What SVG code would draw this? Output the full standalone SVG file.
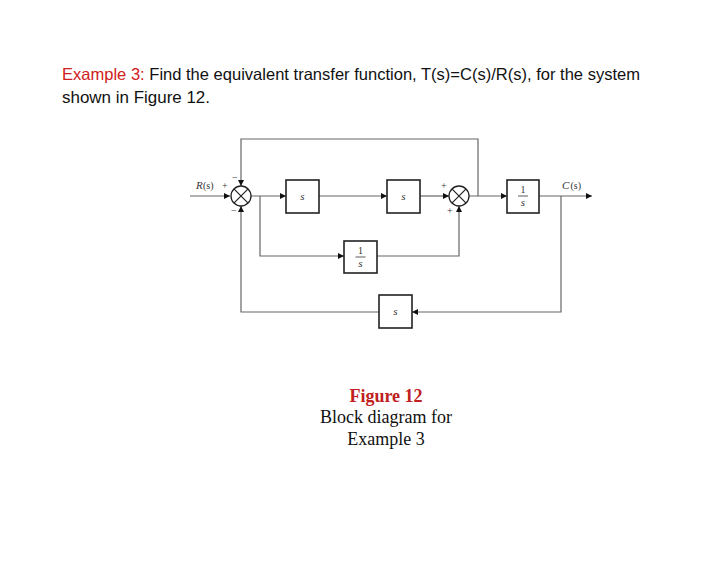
<svg xmlns="http://www.w3.org/2000/svg" width="728" height="563" viewBox="0 0 728 563">
<defs>
<marker id="ah" viewBox="0 0 10 10" refX="10" refY="5" markerWidth="8" markerHeight="6" orient="auto" markerUnits="userSpaceOnUse"><path d="M0,0 L10,5 L0,10 z" fill="#111"/></marker>
</defs>
<style>
.ln{fill:none;stroke:#666;stroke-width:1.2}
.bx{fill:#fff;stroke:#222;stroke-width:1.6}
.sm{fill:#fff;stroke:#222;stroke-width:1.3}
.lb{font-family:"Liberation Serif",serif;font-size:10px;fill:#333}
.it{font-family:"Liberation Serif",serif;font-style:italic;font-size:11px;fill:#333}
.hd{font-family:"Liberation Sans",Arial,sans-serif;font-size:16.5px;fill:#111}
.cap{font-family:"Liberation Serif",serif;font-size:18px;fill:#111;text-anchor:middle}
</style>
<rect width="728" height="563" fill="#fff"/>
<text class="hd" x="62" y="80" textLength="578" lengthAdjust="spacingAndGlyphs"><tspan fill="#d02020">Example 3:</tspan> Find the equivalent transfer function, T(s)=C(s)/R(s), for the system</text>
<text class="hd" x="62" y="103" textLength="148" lengthAdjust="spacingAndGlyphs">shown in Figure 12.</text>
<g id="connectors">
<line class="ln" x1="190" y1="196" x2="230" y2="196" marker-end="url(#ah)"/>
<polyline class="ln" points="478,196 478,139 241,139 241,186" marker-end="url(#ah)"/>
<line class="ln" x1="251" y1="196" x2="286" y2="196" marker-end="url(#ah)"/>
<line class="ln" x1="319" y1="196" x2="387" y2="196" marker-end="url(#ah)"/>
<line class="ln" x1="420" y1="196" x2="449" y2="196" marker-end="url(#ah)"/>
<line class="ln" x1="469" y1="196" x2="507" y2="196" marker-end="url(#ah)"/>
<line class="ln" x1="539" y1="196" x2="592" y2="196" marker-end="url(#ah)"/>
<polyline class="ln" points="260,196 260,256 344,256" marker-end="url(#ah)"/>
<polyline class="ln" points="377,256 459,256 459,206" marker-end="url(#ah)"/>
<polyline class="ln" points="561,196 561,312 412,312" marker-end="url(#ah)"/>
<polyline class="ln" points="379,312 241,312 241,206" marker-end="url(#ah)"/>
</g>
<g id="sum1">
<circle class="sm" cx="241" cy="196" r="10"/>
<path d="M233.9,188.9 L248.1,203.1 M248.1,188.9 L233.9,203.1" stroke="#222" stroke-width="1.2"/>
<text class="lb" x="222" y="189">+</text>
<text class="lb" x="232" y="181">−</text>
<text class="lb" x="231" y="214">−</text>
</g>
<g id="sum2">
<circle class="sm" cx="459" cy="196" r="10"/>
<path d="M451.9,188.9 L466.1,203.1 M466.1,188.9 L451.9,203.1" stroke="#222" stroke-width="1.2"/>
<text class="lb" x="441" y="189">+</text>
<text class="lb" x="447" y="214" font-size="8">+</text>
</g>
<g id="in"><text class="it" x="196" y="189">R</text><text class="lb" x="203" y="189" font-size="11">(s)</text></g>
<g id="out"><text class="it" x="562" y="189">C</text><text class="lb" x="570.5" y="189" font-size="11">(s)</text></g>
<g id="b1"><rect class="bx" x="286" y="180" width="33" height="33"/><text class="it" x="302.5" y="200" text-anchor="middle">s</text></g>
<g id="b2"><rect class="bx" x="387" y="180" width="33" height="33"/><text class="it" x="403.5" y="200" text-anchor="middle">s</text></g>
<g id="b3"><rect class="bx" x="507" y="180" width="32" height="33"/><text class="lb" x="523" y="193" text-anchor="middle" font-size="11">1</text><line x1="518" y1="196" x2="528" y2="196" stroke="#333" stroke-width="0.8"/><text class="it" x="523" y="206" text-anchor="middle">s</text></g>
<g id="b4"><rect class="bx" x="344" y="241" width="33" height="32"/><text class="lb" x="360.5" y="254" text-anchor="middle">1</text><line x1="355.5" y1="257" x2="365.5" y2="257" stroke="#333" stroke-width="0.8"/><text class="it" x="360.5" y="267" text-anchor="middle">s</text></g>
<g id="b5"><rect class="bx" x="379" y="295" width="33" height="33"/><text class="it" x="395.5" y="315" text-anchor="middle">s</text></g>
<g id="caption">
<text class="cap" x="386" y="402" font-weight="bold" style="fill:#c02020">Figure 12</text>
<text class="cap" x="386" y="423">Block diagram for</text>
<text class="cap" x="386" y="445">Example 3</text>
</g>
</svg>
